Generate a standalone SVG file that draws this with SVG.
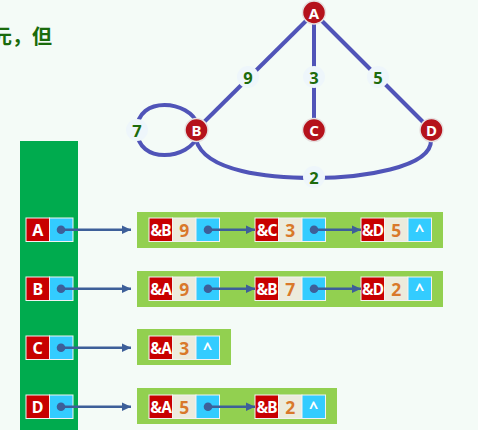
<svg xmlns="http://www.w3.org/2000/svg" width="478" height="430" viewBox="0 0 478 430">
<defs>
<marker id="ah" markerUnits="userSpaceOnUse" markerWidth="10" markerHeight="10" refX="9.5" refY="5" orient="auto"><path d="M0,0.5 L9.5,5 L0,9.5 Z" fill="#3d5f99"/></marker>
<style>
.t{font-family:"Noto Sans","Noto Sans CJK SC","DejaVu Sans",sans-serif;font-weight:bold;text-anchor:middle;dominant-baseline:central}
.vx circle{fill:#b5121b;stroke:#e6e0e0;stroke-width:1.5}
.vx text{fill:#fff;font-size:15px}
.e{fill:none;stroke:#5054b8;stroke-width:4}
.lb circle{fill:#eef6fb}
.lb text{fill:#1d6b0c;font-size:16.5px}
.r{fill:#c80000;stroke:#f2f2f2;stroke-width:1}
.w{fill:#ecebdc;stroke:#f2f2f2;stroke-width:1}
.b{fill:#33ccff;stroke:#f2f2f2;stroke-width:1}
.rt{fill:#fff;font-size:16px}
.rt2{fill:#fff;font-size:15.5px;letter-spacing:-0.8px}
.wt{fill:#d9782a;font-size:17.5px}
.bg{fill:#92d050}
.dot{fill:#3d5f99}
.ar{stroke:#3d5f99;stroke-width:2.5;fill:none;marker-end:url(#ah)}
</style>
</defs>
<rect width="478" height="430" fill="#f4fbf7"/>
<text x="-8" y="44" font-family="Noto Sans CJK SC, sans-serif" font-weight="bold" font-size="20" fill="#1a6b0c">元，但</text>
<g id="edges">
<line class="e" x1="314" y1="13" x2="196" y2="130"/>
<line class="e" x1="314" y1="13" x2="314" y2="130"/>
<line class="e" x1="314" y1="13" x2="431" y2="130"/>
<path class="e" d="M198,125 C190,100 137,95 137,130 C137,165 190,160 198,135"/>
<path class="e" d="M196,140 C205,172 270,178 314,178 C360,178 432,168 431,140"/>
<g class="lb">
<circle cx="248" cy="77" r="11"/><text class="t" x="248" y="77">9</text>
<circle cx="314" cy="77" r="11"/><text class="t" x="314" y="77">3</text>
<circle cx="378" cy="77" r="11"/><text class="t" x="378" y="77">5</text>
<circle cx="137" cy="130" r="11"/><text class="t" x="137" y="130">7</text>
<circle cx="314" cy="177" r="11"/><text class="t" x="314" y="177">2</text>
</g>
</g>
<g id="vA" class="vx"><circle cx="314" cy="12.5" r="11.5"/><text class="t" x="314" y="12.5">A</text></g>
<g id="vB" class="vx"><circle cx="196.5" cy="130" r="11.5"/><text class="t" x="196.5" y="130">B</text></g>
<g id="vC" class="vx"><circle cx="314" cy="130" r="11.5"/><text class="t" x="314" y="130">C</text></g>
<g id="vD" class="vx"><circle cx="431.5" cy="130" r="11.5"/><text class="t" x="431.5" y="130">D</text></g>

<rect x="20" y="141" width="58" height="289" fill="#00ab4e"/>
<g class="bg">
<rect x="137" y="212" width="306" height="36"/>
<rect x="137" y="271" width="306" height="36"/>
<rect x="137" y="329" width="94" height="36"/>
<rect x="137" y="388" width="200" height="36"/>
</g>

<g id="headA"><rect class="r" x="26" y="218" width="23.5" height="23.5"/><rect class="b" x="49.5" y="218" width="23.5" height="23.5"/><text class="t rt" x="37.7" y="229.7">A</text></g>
<g id="headB"><rect class="r" x="26" y="277" width="23.5" height="23.5"/><rect class="b" x="49.5" y="277" width="23.5" height="23.5"/><text class="t rt" x="37.7" y="288.7">B</text></g>
<g id="headC"><rect class="r" x="26" y="336" width="23.5" height="23.5"/><rect class="b" x="49.5" y="336" width="23.5" height="23.5"/><text class="t rt" x="37.7" y="347.7">C</text></g>
<g id="headD"><rect class="r" x="26" y="395" width="23.5" height="23.5"/><rect class="b" x="49.5" y="395" width="23.5" height="23.5"/><text class="t rt" x="37.7" y="406.7">D</text></g>

<g id="nA1"><rect class="r" x="149" y="218" width="23.5" height="23.5"/><rect class="w" x="172.5" y="218" width="23.5" height="23.5"/><rect class="b" x="196" y="218" width="23.5" height="23.5"/><text class="t rt2" x="160.7" y="229.7">&amp;B</text><text class="t wt" x="184.2" y="229.7">9</text></g>
<g id="nA2"><rect class="r" x="255" y="218" width="23.5" height="23.5"/><rect class="w" x="278.5" y="218" width="23.5" height="23.5"/><rect class="b" x="302" y="218" width="23.5" height="23.5"/><text class="t rt2" x="266.7" y="229.7">&amp;C</text><text class="t wt" x="290.2" y="229.7">3</text></g>
<g id="nA3"><rect class="r" x="361" y="218" width="23.5" height="23.5"/><rect class="w" x="384.5" y="218" width="23.5" height="23.5"/><rect class="b" x="408" y="218" width="23.5" height="23.5"/><text class="t rt2" x="372.7" y="229.7">&amp;D</text><text class="t wt" x="396.2" y="229.7">5</text><text class="t rt" x="419.7" y="229.7">^</text></g>

<g id="nB1"><rect class="r" x="149" y="277" width="23.5" height="23.5"/><rect class="w" x="172.5" y="277" width="23.5" height="23.5"/><rect class="b" x="196" y="277" width="23.5" height="23.5"/><text class="t rt2" x="160.7" y="288.7">&amp;A</text><text class="t wt" x="184.2" y="288.7">9</text></g>
<g id="nB2"><rect class="r" x="255" y="277" width="23.5" height="23.5"/><rect class="w" x="278.5" y="277" width="23.5" height="23.5"/><rect class="b" x="302" y="277" width="23.5" height="23.5"/><text class="t rt2" x="266.7" y="288.7">&amp;B</text><text class="t wt" x="290.2" y="288.7">7</text></g>
<g id="nB3"><rect class="r" x="361" y="277" width="23.5" height="23.5"/><rect class="w" x="384.5" y="277" width="23.5" height="23.5"/><rect class="b" x="408" y="277" width="23.5" height="23.5"/><text class="t rt2" x="372.7" y="288.7">&amp;D</text><text class="t wt" x="396.2" y="288.7">2</text><text class="t rt" x="419.7" y="288.7">^</text></g>

<g id="nC1"><rect class="r" x="149" y="336" width="23.5" height="23.5"/><rect class="w" x="172.5" y="336" width="23.5" height="23.5"/><rect class="b" x="196" y="336" width="23.5" height="23.5"/><text class="t rt2" x="160.7" y="347.7">&amp;A</text><text class="t wt" x="184.2" y="347.7">3</text><text class="t rt" x="207.7" y="347.7">^</text></g>

<g id="nD1"><rect class="r" x="149" y="395" width="23.5" height="23.5"/><rect class="w" x="172.5" y="395" width="23.5" height="23.5"/><rect class="b" x="196" y="395" width="23.5" height="23.5"/><text class="t rt2" x="160.7" y="406.7">&amp;A</text><text class="t wt" x="184.2" y="406.7">5</text></g>
<g id="nD2"><rect class="r" x="255" y="395" width="23.5" height="23.5"/><rect class="w" x="278.5" y="395" width="23.5" height="23.5"/><rect class="b" x="302" y="395" width="23.5" height="23.5"/><text class="t rt2" x="266.7" y="406.7">&amp;B</text><text class="t wt" x="290.2" y="406.7">2</text><text class="t rt" x="313.7" y="406.7">^</text></g>

<g id="pointers">
<line class="ar" x1="61" y1="229.7" x2="131" y2="229.7"/>
<line class="ar" x1="61" y1="288.7" x2="131" y2="288.7"/>
<line class="ar" x1="61" y1="347.7" x2="131" y2="347.7"/>
<line class="ar" x1="61" y1="406.7" x2="131" y2="406.7"/>
<line class="ar" x1="208" y1="229.7" x2="255" y2="229.7"/>
<line class="ar" x1="314" y1="229.7" x2="361" y2="229.7"/>
<line class="ar" x1="208" y1="288.7" x2="255" y2="288.7"/>
<line class="ar" x1="314" y1="288.7" x2="361" y2="288.7"/>
<line class="ar" x1="208" y1="406.7" x2="255" y2="406.7"/>
<g class="dot">
<circle cx="61" cy="229.7" r="4.3"/><circle cx="61" cy="288.7" r="4.3"/><circle cx="61" cy="347.7" r="4.3"/><circle cx="61" cy="406.7" r="4.3"/>
<circle cx="208" cy="229.7" r="4.3"/><circle cx="314" cy="229.7" r="4.3"/><circle cx="208" cy="288.7" r="4.3"/><circle cx="314" cy="288.7" r="4.3"/><circle cx="208" cy="406.7" r="4.3"/>
</g>
</g>
</svg>
